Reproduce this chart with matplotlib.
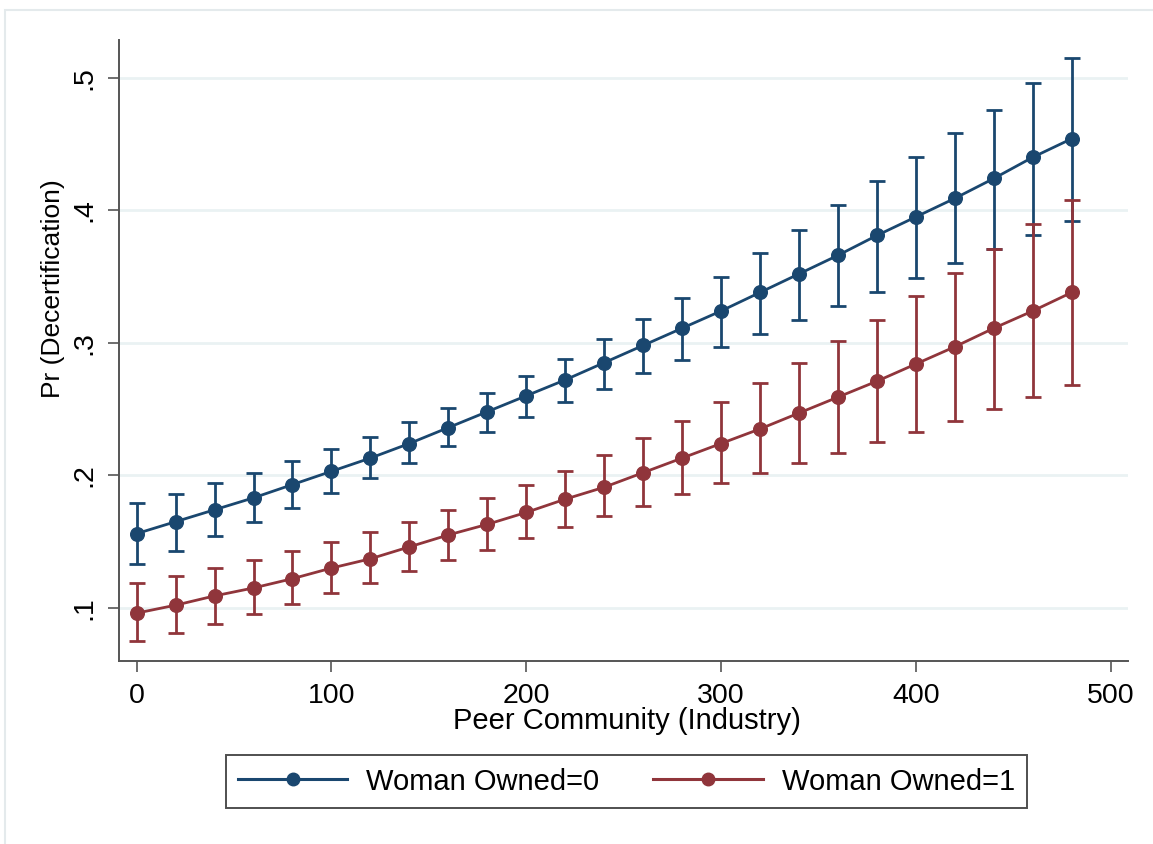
import matplotlib
matplotlib.use("Agg")
import matplotlib.pyplot as plt
from matplotlib.patches import Rectangle
from matplotlib.ticker import FuncFormatter

plt.rcParams['font.family'] = ['Liberation Sans', 'DejaVu Sans']

# Peer community size (industry)
peer = [0, 20, 40, 60, 80, 100, 120, 140, 160, 180, 200, 220, 240,
        260, 280, 300, 320, 340, 360, 380, 400, 420, 440, 460, 480]

# Predicted probability of decertification, Woman Owned = 0
wo0_margin = [0.156, 0.165, 0.174, 0.183, 0.193, 0.203, 0.213, 0.224, 0.236,
              0.248, 0.260, 0.272, 0.285, 0.298, 0.311, 0.324, 0.338, 0.352,
              0.366, 0.381, 0.395, 0.409, 0.424, 0.440, 0.454]
wo0_lower = [0.133, 0.143, 0.154, 0.165, 0.175, 0.187, 0.198, 0.209, 0.222,
             0.233, 0.244, 0.255, 0.265, 0.277, 0.287, 0.297, 0.307, 0.317,
             0.328, 0.338, 0.349, 0.360, 0.371, 0.381, 0.392]
wo0_upper = [0.179, 0.186, 0.194, 0.202, 0.211, 0.220, 0.229, 0.240, 0.251,
             0.262, 0.275, 0.288, 0.303, 0.318, 0.334, 0.350, 0.368, 0.385,
             0.404, 0.422, 0.440, 0.458, 0.476, 0.496, 0.515]

# Predicted probability of decertification, Woman Owned = 1
wo1_margin = [0.096, 0.102, 0.109, 0.115, 0.122, 0.130, 0.137, 0.146, 0.155,
              0.163, 0.172, 0.182, 0.191, 0.202, 0.213, 0.224, 0.235, 0.247,
              0.259, 0.271, 0.284, 0.297, 0.311, 0.324, 0.338]
wo1_lower = [0.075, 0.081, 0.088, 0.095, 0.103, 0.111, 0.119, 0.128, 0.136,
             0.144, 0.153, 0.161, 0.169, 0.177, 0.186, 0.194, 0.202, 0.209,
             0.217, 0.225, 0.233, 0.241, 0.250, 0.259, 0.268]
wo1_upper = [0.119, 0.124, 0.130, 0.136, 0.143, 0.150, 0.157, 0.165, 0.174,
             0.183, 0.193, 0.203, 0.215, 0.228, 0.241, 0.255, 0.270, 0.285,
             0.301, 0.317, 0.335, 0.353, 0.371, 0.390, 0.408]

x_ticks = [0, 100, 200, 300, 400, 500]
y_ticks = [0.1, 0.2, 0.3, 0.4, 0.5]
series_labels = ["Woman Owned=0", "Woman Owned=1"]

NAVY = "#1a476f"
MAROON = "#90353b"
GRID = "#eaf2f3"
AXIS = "#555555"

W, H = 1153, 844
fig = plt.figure(figsize=(W / 100, H / 100), dpi=100)
fig.patch.set_facecolor("white")

# thin outer graph-region frame
fig.patches.append(Rectangle((5 / W, -0.1), 1.2, 1.1 - 10 / H,
                             transform=fig.transFigure, fill=False,
                             edgecolor="#e4eaec", linewidth=1.5, zorder=0))

left, right, top, bottom = 118.7, 1128, 40, 660.7
ax = fig.add_axes([left / W, 1 - bottom / H, (right - left) / W, (bottom - top) / H])
ax.set_facecolor("white")

ax.set_xlim(-9.2, 508.9)
ax.set_ylim(0.0601, 0.5285)

for s in ("top", "right"):
    ax.spines[s].set_visible(False)
for s in ("left", "bottom"):
    ax.spines[s].set_color(AXIS)
    ax.spines[s].set_linewidth(1.4)

ax.set_xticks(x_ticks)
ax.set_yticks(y_ticks)
ax.yaxis.set_major_formatter(FuncFormatter(lambda v, p: ("%.1f" % v).lstrip("0")))
ax.tick_params(axis="both", direction="out", length=8, width=1.2, color=AXIS,
               labelsize=20.5, labelcolor="black")
ax.tick_params(axis="x", pad=8)
ax.tick_params(axis="y", pad=7)
for lab in ax.get_yticklabels():
    lab.set_rotation(90)
    lab.set_va("center")

ax.grid(axis="y", color=GRID, linewidth=2.0, zorder=0)
ax.set_axisbelow(True)

err_kw = dict(fmt="none", capsize=6, capthick=2.0, elinewidth=2.0)
ax.errorbar(peer, wo0_margin,
            yerr=[[m - lo for m, lo in zip(wo0_margin, wo0_lower)],
                  [hi - m for m, hi in zip(wo0_margin, wo0_upper)]],
            ecolor=NAVY, zorder=2, **err_kw)
ax.errorbar(peer, wo1_margin,
            yerr=[[m - lo for m, lo in zip(wo1_margin, wo1_lower)],
                  [hi - m for m, hi in zip(wo1_margin, wo1_upper)]],
            ecolor=MAROON, zorder=3, **err_kw)

l0, = ax.plot(peer, wo0_margin, color=NAVY, linewidth=2.0, marker="o",
              markersize=9.8, zorder=4, label=series_labels[0])
l1, = ax.plot(peer, wo1_margin, color=MAROON, linewidth=2.0, marker="o",
              markersize=9.8, zorder=5, label=series_labels[1])

ax.set_xlabel("Peer Community (Industry)", fontsize=21)
ax.xaxis.set_label_coords((627 - left) / (right - left), (bottom - 707) / (bottom - top))
ax.xaxis.label.set_va("top")

fig.text(53 / W, 1 - 289 / H, "Pr (Decertification)", rotation=90,
         ha="center", va="center", fontsize=19)

leg = fig.legend(handles=[l0, l1], labels=series_labels, loc="center",
                 bbox_to_anchor=(626.5 / W, 1 - 781.5 / H), ncol=2,
                 fontsize=21, frameon=True, fancybox=False, shadow=False,
                 handlelength=3.75, handletextpad=0.65, columnspacing=1.85,
                 borderpad=0.42, numpoints=1, borderaxespad=0)
leg.get_frame().set_edgecolor("#222222")
leg.get_frame().set_linewidth(1.4)
for h in leg.legend_handles:
    h.set_linewidth(2.2)
    h.set_markersize(9)

fig.savefig("out.png", dpi=100, facecolor="white")
